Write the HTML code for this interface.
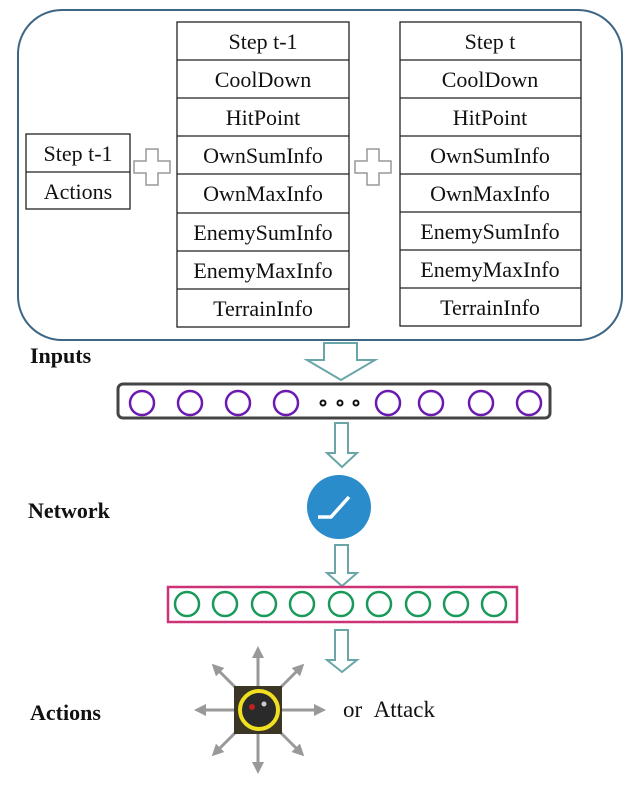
<!DOCTYPE html>
<html><head><style>body{margin:0;background:#fff}svg{display:block}</style></head><body>
<svg width="629" height="786" viewBox="0 0 629 786" xmlns="http://www.w3.org/2000/svg" font-family="Liberation Serif, serif">
<defs><marker id="g" markerWidth="4" markerHeight="4" refX="2" refY="2" orient="auto" markerUnits="strokeWidth"><path d="M0,0 L4,2 L0,4 z" fill="#999"/></marker></defs>
<rect x="18" y="10" width="604" height="330" rx="44" fill="#fff" stroke="#3d6684" stroke-width="2"/>
<g fill="none" stroke="#222" stroke-width="1.3">
<rect x="26" y="134" width="104" height="75"/><line x1="26" y1="172" x2="130" y2="172"/>
<rect x="177" y="22" width="172" height="305"/>
<rect x="400" y="22" width="181" height="304"/>
</g>
<g stroke="#222" stroke-width="1.3">
<line x1="177" y1="60" x2="349" y2="60"/><line x1="177" y1="98" x2="349" y2="98"/><line x1="177" y1="136" x2="349" y2="136"/><line x1="177" y1="174" x2="349" y2="174"/><line x1="177" y1="213" x2="349" y2="213"/><line x1="177" y1="251" x2="349" y2="251"/><line x1="177" y1="289" x2="349" y2="289"/>
<line x1="400" y1="60" x2="581" y2="60"/><line x1="400" y1="98" x2="581" y2="98"/><line x1="400" y1="136" x2="581" y2="136"/><line x1="400" y1="174" x2="581" y2="174"/><line x1="400" y1="212" x2="581" y2="212"/><line x1="400" y1="250" x2="581" y2="250"/><line x1="400" y1="288" x2="581" y2="288"/>
</g>
<g font-size="22" text-anchor="middle" fill="#111">
<text x="78" y="161">Step t-1</text><text x="78" y="199">Actions</text>
<text x="263" y="49">Step t-1</text><text x="263" y="87">CoolDown</text><text x="263" y="125">HitPoint</text><text x="263" y="163">OwnSumInfo</text><text x="263" y="201">OwnMaxInfo</text><text x="263" y="240">EnemySumInfo</text><text x="263" y="278">EnemyMaxInfo</text><text x="263" y="316">TerrainInfo</text>
<text x="490" y="49">Step t</text><text x="490" y="87">CoolDown</text><text x="490" y="125">HitPoint</text><text x="490" y="163">OwnSumInfo</text><text x="490" y="201">OwnMaxInfo</text><text x="490" y="239">EnemySumInfo</text><text x="490" y="277">EnemyMaxInfo</text><text x="490" y="315">TerrainInfo</text>
</g>
<g fill="#fff" stroke="#999" stroke-width="1.5">
<path d="M146,149h12v12h12v12h-12v12h-12v-12h-12v-12h12z"/>
<path d="M367,149h12v12h12v12h-12v12h-12v-12h-12v-12h12z"/>
</g>
<g font-size="22" font-weight="bold" fill="#111">
<text x="30" y="363">Inputs</text><text x="28" y="518">Network</text><text x="30" y="720">Actions</text>
</g>
<g fill="#fff" stroke="#6aa5a8" stroke-width="2">
<path d="M324,343h33v17h18l-34,20l-34,-20h17z"/>
<path d="M335,423h13v30h9l-15,14l-15,-14h8z"/>
<path d="M335,545h13v28h9l-15,13l-15,-13h8z"/>
<path d="M335,630h13v30h9l-15,12l-15,-12h8z"/>
</g>
<rect x="118" y="384" width="432" height="34" rx="5" fill="#fff" stroke="#444" stroke-width="3"/>
<g fill="none" stroke="#6a1ab0" stroke-width="2.5">
<circle cx="142" cy="403" r="12"/><circle cx="190" cy="403" r="12"/><circle cx="238" cy="403" r="12"/><circle cx="286" cy="403" r="12"/>
<circle cx="388" cy="403" r="12"/><circle cx="431" cy="403" r="12"/><circle cx="481" cy="403" r="12"/><circle cx="529" cy="403" r="12"/>
</g>
<g fill="none" stroke="#111" stroke-width="2"><circle cx="323" cy="403" r="2.5"/><circle cx="340" cy="403" r="2.5"/><circle cx="356" cy="403" r="2.5"/></g>
<circle cx="339" cy="507" r="32" fill="#2b8ccc"/>
<path d="M318,517h13l18,-20" fill="none" stroke="#fff" stroke-width="3.5"/>
<rect x="168" y="587" width="349" height="35" fill="#fff" stroke="#cc3377" stroke-width="2.5"/>
<g fill="none" stroke="#1a9a5a" stroke-width="2.5">
<circle cx="187" cy="604" r="12"/><circle cx="225" cy="604" r="12"/><circle cx="264" cy="604" r="12"/><circle cx="302" cy="604" r="12"/><circle cx="341" cy="604" r="12"/><circle cx="379" cy="604" r="12"/><circle cx="418" cy="604" r="12"/><circle cx="456" cy="604" r="12"/><circle cx="494" cy="604" r="12"/>
</g>
<g stroke="#999" stroke-width="3" marker-end="url(#g)">
<line x1="258" y1="710" x2="258" y2="652"/><line x1="258" y1="710" x2="258" y2="768"/><line x1="258" y1="710" x2="200" y2="710"/><line x1="258" y1="710" x2="320" y2="710"/>
<line x1="258" y1="710" x2="216" y2="668"/><line x1="258" y1="710" x2="300" y2="668"/><line x1="258" y1="710" x2="216" y2="752"/><line x1="258" y1="710" x2="300" y2="752"/>
</g>
<rect x="234" y="686" width="48" height="48" fill="#3b3526"/>
<circle cx="259" cy="710" r="19" fill="#2a2a2a" stroke="#f0e020" stroke-width="4"/>
<circle cx="252" cy="707" r="3" fill="#c02020"/><circle cx="264" cy="704" r="2.5" fill="#ccc"/>
<text x="343" y="717" font-size="23" fill="#111">or&#160;&#160;Attack</text>
</svg>
</body></html>
